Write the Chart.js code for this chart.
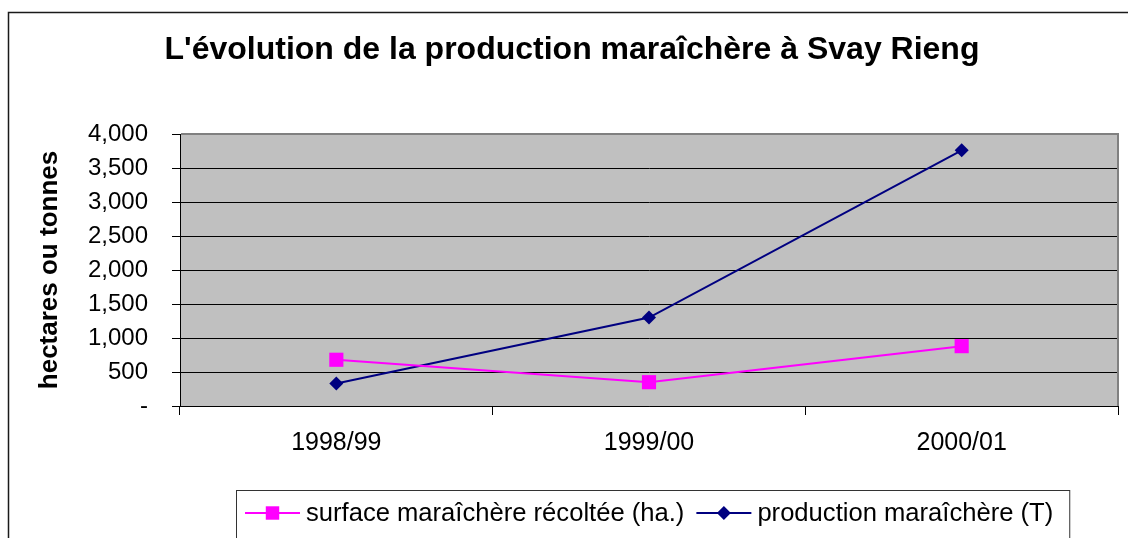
<!DOCTYPE html>
<html>
<head>
<meta charset="utf-8">
<script src="https://cdn.jsdelivr.net/npm/chart.js"></script>
<style>
  html, body { margin: 0; padding: 0; background: #ffffff; }
  canvas { display: block; }
</style>
</head>
<body>
<canvas id="c" width="1128" height="538"></canvas>
<script>
const categories = ['1998/99', '1999/00', '2000/01'];
const surfaceValues = [680, 350, 880];
const productionValues = [330, 1300, 3760];
const yTickLabels = ['-', '500', '1,000', '1,500', '2,000', '2,500', '3,000', '3,500', '4,000'];
const seriesLabels = ['surface maraîchère récoltée (ha.)', 'production maraîchère (T)'];
const chartTitle = "L'évolution de la production maraîchère à Svay Rieng";
const yAxisTitle = 'hectares ou tonnes';

const FONT = '"Liberation Sans", Arial, sans-serif';
Chart.defaults.font.family = FONT;
Chart.defaults.color = '#000000';

const framePlugin = {
  id: 'frame',
  beforeDraw(chart) {
    const ctx = chart.ctx, a = chart.chartArea;
    ctx.save();
    ctx.fillStyle = '#ffffff';
    ctx.fillRect(0, 0, chart.width, chart.height);
    ctx.strokeStyle = '#1a1a1a';
    ctx.lineWidth = 1.5;
    ctx.beginPath();
    ctx.moveTo(8.5, chart.height + 5);
    ctx.lineTo(8.5, 12.5);
    ctx.lineTo(chart.width + 5, 12.5);
    ctx.stroke();
    ctx.fillStyle = '#c0c0c0';
    ctx.fillRect(a.left, a.top, a.right - a.left, a.bottom - a.top);
    ctx.restore();
  },
  beforeDatasetsDraw(chart) {
    const ctx = chart.ctx, a = chart.chartArea;
    ctx.save();
    ctx.strokeStyle = '#808080';
    ctx.lineWidth = 2;
    ctx.beginPath();
    ctx.moveTo(a.left + 1, a.top);
    ctx.lineTo(a.right, a.top);
    ctx.lineTo(a.right, a.bottom);
    ctx.stroke();
    ctx.restore();
  }
};

function drawMarker(ctx, style, cx, cy, r) {
  ctx.beginPath();
  if (style === 'rect') {
    const s = r * Math.SQRT1_2;
    ctx.rect(cx - s, cy - s, 2 * s, 2 * s);
  } else {
    ctx.moveTo(cx - r, cy);
    ctx.lineTo(cx, cy - r);
    ctx.lineTo(cx + r, cy);
    ctx.lineTo(cx, cy + r);
    ctx.closePath();
  }
  ctx.fill();
}

const legendPlugin = {
  id: 'boxLegend',
  afterDraw(chart) {
    const ctx = chart.ctx;
    ctx.save();
    ctx.font = '25.6px ' + FONT;
    ctx.textBaseline = 'middle';
    ctx.textAlign = 'left';
    const y = 513;
    let x = 245;
    const boxLeft = 236;
    chart.data.datasets.forEach((ds) => {
      ctx.strokeStyle = ds.borderColor;
      ctx.lineWidth = 2;
      ctx.beginPath();
      ctx.moveTo(x, y);
      ctx.lineTo(x + 55, y);
      ctx.stroke();
      ctx.fillStyle = ds.pointBackgroundColor;
      drawMarker(ctx, ds.pointStyle, x + 27.5, y, ds.pointStyle === 'rect' ? 9.5 : 7);
      ctx.fillStyle = '#000000';
      ctx.fillText(ds.label, x + 61, y + 1);
      x += 61 + ctx.measureText(ds.label).width + 12;
    });
    const boxRight = x + 4;
    ctx.strokeStyle = '#333333';
    ctx.lineWidth = 1;
    ctx.strokeRect(boxLeft + 0.5, 490.5, boxRight - boxLeft, 60);
    ctx.restore();
  }
};

new Chart(document.getElementById('c'), {
  type: 'line',
  data: {
    labels: categories,
    datasets: [
      {
        label: seriesLabels[0],
        data: surfaceValues,
        borderColor: '#ff00ff',
        backgroundColor: '#ff00ff',
        pointBackgroundColor: '#ff00ff',
        pointBorderColor: '#ff00ff',
        pointStyle: 'rect',
        pointRadius: 10,
        pointBorderWidth: 0,
        borderWidth: 2,
        tension: 0,
        fill: false
      },
      {
        label: seriesLabels[1],
        data: productionValues,
        borderColor: '#000080',
        backgroundColor: '#000080',
        pointBackgroundColor: '#000080',
        pointBorderColor: '#000080',
        pointStyle: 'rectRot',
        pointRadius: 7,
        pointBorderWidth: 0,
        borderWidth: 2,
        tension: 0,
        fill: false
      }
    ]
  },
  options: {
    responsive: false,
    animation: false,
    layout: { padding: { left: 26, right: 10, top: 0, bottom: 0 } },
    plugins: {
      legend: { display: false },
      tooltip: { enabled: false },
      title: {
        display: true,
        text: chartTitle,
        color: '#000000',
        font: { size: 32, weight: 'bold', family: FONT },
        padding: { top: 31, bottom: 64.6 }
      }
    },
    scales: {
      x: {
        type: 'category',
        offset: true,
        afterFit(scale) { scale.height = 132; },
        grid: {
          display: true,
          drawOnChartArea: false,
          offset: true,
          color: '#000000',
          tickLength: 9,
          lineWidth: 1
        },
        border: { display: true, color: '#000000', width: 1 },
        ticks: {
          color: '#000000',
          font: { size: 25, family: FONT },
          padding: 13,
          maxRotation: 0
        }
      },
      y: {
        type: 'linear',
        min: 0,
        max: 4000,
        afterFit(scale) { scale.width = 154; },
        grid: {
          color: '#000000',
          lineWidth: 1,
          tickLength: 8
        },
        border: { display: true, color: '#000000', width: 1 },
        ticks: {
          stepSize: 500,
          color: '#000000',
          font: { size: 24, family: FONT },
          padding: 24,
          callback: (value, index) => yTickLabels[index]
        },
        title: {
          display: true,
          text: yAxisTitle,
          color: '#000000',
          font: { size: 26, weight: 'bold', family: FONT },
          padding: { top: 8.4, bottom: 0 }
        }
      }
    }
  },
  plugins: [framePlugin, legendPlugin]
});
</script>
</body>
</html>
